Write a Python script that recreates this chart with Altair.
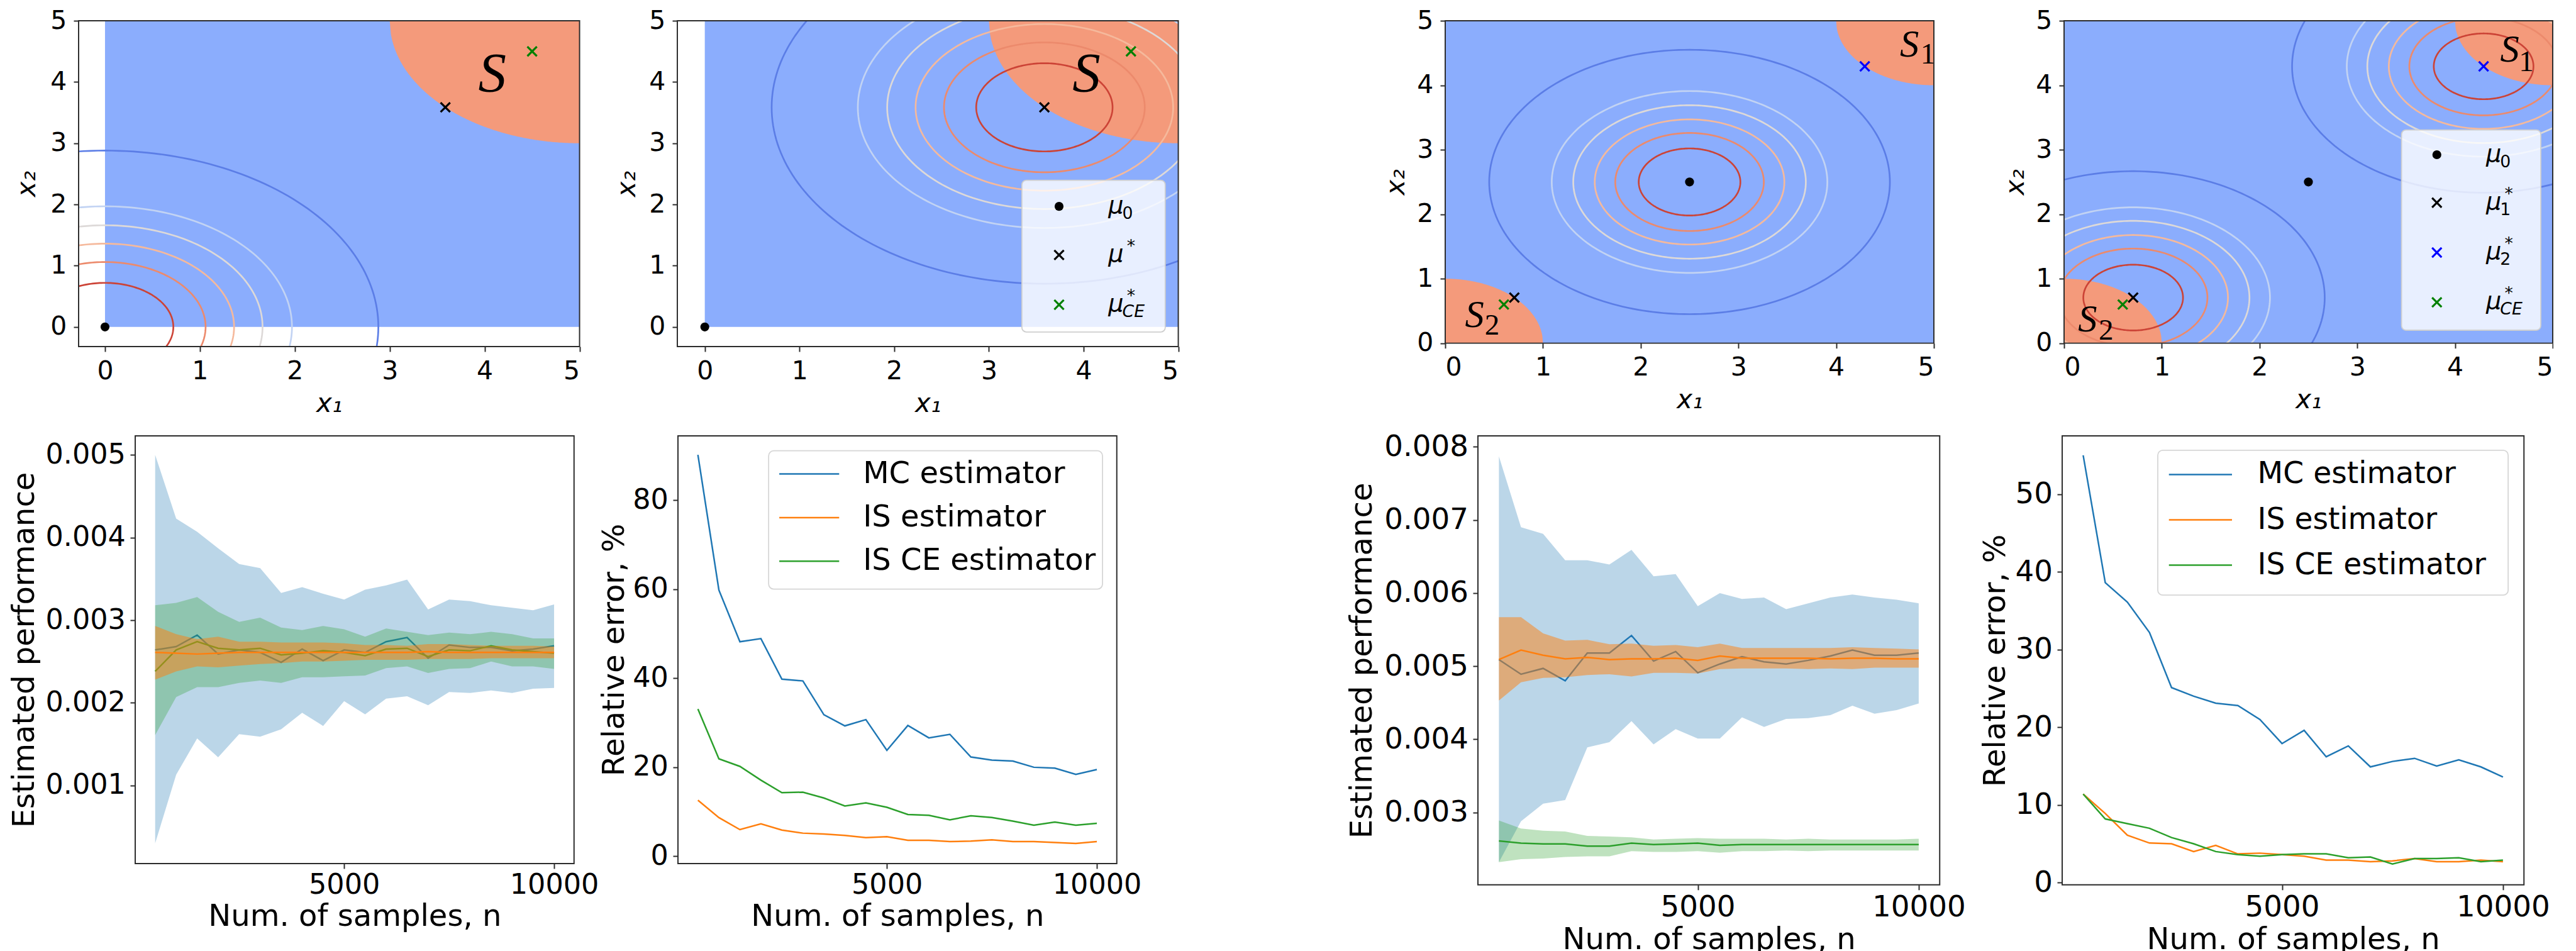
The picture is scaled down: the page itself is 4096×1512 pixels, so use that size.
import altair as alt
import numpy as np
import pandas as pd

SC = 0.89
FONT = "DejaVu Sans"
FRAME_COLOR = "#2b2b2b"
BLUE_FILL = "#8badfd"
SALMON_FILL = "#f49a7b"
C_MC = "#1f77b4"
C_IS = "#ff7f0e"
C_CE = "#2ca02c"

# ------------------------------------------------------------------ data
n_samples = [500, 1000, 1500, 2000, 2500, 3000, 3500, 4000, 4500, 5000,
             5500, 6000, 6500, 7000, 7500, 8000, 8500, 9000, 9500, 10000]

# left figure: estimated performance
mc5_mean = [0.00264, 0.00268, 0.00282, 0.00259, 0.00264, 0.00261, 0.00249, 0.00265, 0.00251, 0.00264,
            0.00261, 0.00274, 0.00279, 0.00254, 0.00270, 0.00267, 0.00267, 0.00263, 0.00265, 0.00269]
mc5_lo = [0.00030, 0.00113, 0.00157, 0.00134, 0.00162, 0.00159, 0.00168, 0.00188, 0.00172, 0.00202,
          0.00186, 0.00205, 0.00208, 0.00197, 0.00213, 0.00212, 0.00215, 0.00212, 0.00217, 0.00218]
mc5_hi = [0.00500, 0.00423, 0.00407, 0.00387, 0.00368, 0.00363, 0.00333, 0.00340, 0.00332, 0.00325,
          0.00337, 0.00342, 0.00349, 0.00313, 0.00325, 0.00323, 0.00318, 0.00315, 0.00312, 0.00319]
is5_mean = [0.00261, 0.00260, 0.00259, 0.00260, 0.00261, 0.00261, 0.00261, 0.00261, 0.00261, 0.00261,
            0.00261, 0.00261, 0.00261, 0.00262, 0.00261, 0.00261, 0.00261, 0.00261, 0.00261, 0.00261]
is5_lo = [0.00228, 0.00238, 0.00244, 0.00243, 0.00245, 0.00247, 0.00248, 0.00250, 0.00250, 0.00251,
          0.00252, 0.00252, 0.00252, 0.00253, 0.00253, 0.00253, 0.00254, 0.00254, 0.00254, 0.00254]
is5_hi = [0.00293, 0.00283, 0.00277, 0.00280, 0.00274, 0.00274, 0.00273, 0.00273, 0.00273, 0.00272,
          0.00270, 0.00270, 0.00269, 0.00271, 0.00271, 0.00270, 0.00269, 0.00269, 0.00269, 0.00268]
ce5_mean = [0.00238, 0.00264, 0.00274, 0.00266, 0.00264, 0.00266, 0.00258, 0.00260, 0.00263, 0.00261,
            0.00257, 0.00265, 0.00266, 0.00256, 0.00264, 0.00263, 0.00269, 0.00264, 0.00262, 0.00260]
ce5_lo = [0.00161, 0.00207, 0.00219, 0.00219, 0.00224, 0.00227, 0.00224, 0.00231, 0.00231, 0.00232,
          0.00233, 0.00242, 0.00244, 0.00236, 0.00241, 0.00242, 0.00250, 0.00244, 0.00244, 0.00241]
ce5_hi = [0.00318, 0.00321, 0.00328, 0.00310, 0.00298, 0.00303, 0.00291, 0.00288, 0.00293, 0.00289,
          0.00280, 0.00290, 0.00286, 0.00282, 0.00285, 0.00283, 0.00286, 0.00283, 0.00278, 0.00278]

# left figure: relative error, %
mc6_err = [90.2, 59.8, 48.2, 48.9, 39.8, 39.4, 31.8, 29.3, 30.7, 23.8,
           29.4, 26.6, 27.4, 22.3, 21.6, 21.4, 20.0, 19.8, 18.4, 19.5]
is6_err = [12.6, 8.7, 6.0, 7.3, 5.9, 5.2, 5.0, 4.7, 4.2, 4.4,
           3.6, 3.6, 3.3, 3.4, 3.7, 3.3, 3.3, 3.1, 2.9, 3.3]
ce6_err = [33.1, 21.9, 20.2, 17.1, 14.3, 14.4, 13.1, 11.3, 12.0, 11.0,
           9.4, 9.2, 8.2, 9.1, 8.7, 7.9, 7.0, 7.7, 7.0, 7.4]

# right figure: estimated performance
mc7_mean = [0.00509, 0.00489, 0.00497, 0.00480, 0.00518, 0.00518, 0.00542, 0.00507, 0.00520, 0.00491,
            0.00503, 0.00513, 0.00506, 0.00503, 0.00508, 0.00514, 0.00522, 0.00515, 0.00515, 0.00518]
mc7_lo = [0.00232, 0.00288, 0.00312, 0.00317, 0.00389, 0.00396, 0.00425, 0.00393, 0.00414, 0.00401,
          0.00401, 0.00430, 0.00417, 0.00428, 0.00429, 0.00433, 0.00446, 0.00435, 0.00440, 0.00449]
mc7_hi = [0.00787, 0.00690, 0.00681, 0.00645, 0.00645, 0.00639, 0.00659, 0.00623, 0.00626, 0.00582,
          0.00600, 0.00592, 0.00594, 0.00578, 0.00586, 0.00594, 0.00598, 0.00594, 0.00591, 0.00586]
is7_mean = [0.00509, 0.00522, 0.00515, 0.00510, 0.00512, 0.00509, 0.00510, 0.00510, 0.00511, 0.00508,
            0.00514, 0.00511, 0.00511, 0.00511, 0.00511, 0.00510, 0.00511, 0.00511, 0.00510, 0.00510]
is7_lo = [0.00453, 0.00478, 0.00484, 0.00485, 0.00488, 0.00489, 0.00486, 0.00491, 0.00491, 0.00490,
          0.00496, 0.00497, 0.00497, 0.00497, 0.00496, 0.00497, 0.00496, 0.00498, 0.00498, 0.00498]
is7_hi = [0.00567, 0.00567, 0.00545, 0.00535, 0.00536, 0.00530, 0.00531, 0.00528, 0.00529, 0.00526,
          0.00531, 0.00525, 0.00525, 0.00525, 0.00525, 0.00525, 0.00526, 0.00525, 0.00524, 0.00523]
ce7_mean = [0.00261, 0.00258, 0.00257, 0.00257, 0.00254, 0.00254, 0.00258, 0.00256, 0.00257, 0.00258,
            0.00255, 0.00256, 0.00256, 0.00256, 0.00256, 0.00256, 0.00256, 0.00256, 0.00256, 0.00256]
ce7_lo = [0.00232, 0.00236, 0.00237, 0.00239, 0.00240, 0.00240, 0.00247, 0.00246, 0.00246, 0.00247,
          0.00245, 0.00247, 0.00247, 0.00248, 0.00247, 0.00248, 0.00248, 0.00248, 0.00248, 0.00248]
ce7_hi = [0.00289, 0.00278, 0.00275, 0.00274, 0.00268, 0.00267, 0.00266, 0.00263, 0.00264, 0.00265,
          0.00264, 0.00264, 0.00264, 0.00263, 0.00264, 0.00263, 0.00263, 0.00263, 0.00263, 0.00264]

# right figure: relative error, %
mc8_err = [55.0, 38.6, 36.1, 32.2, 25.1, 24.0, 23.1, 22.8, 21.0, 17.9,
           19.6, 16.2, 17.6, 14.9, 15.6, 16.0, 15.0, 15.8, 14.9, 13.6]
is8_err = [11.4, 8.9, 6.1, 5.1, 5.0, 4.0, 4.8, 3.7, 3.8, 3.6,
           3.4, 2.9, 2.9, 2.7, 2.8, 3.1, 2.7, 2.7, 2.9, 2.7]
ce8_err = [11.4, 8.2, 7.6, 7.0, 5.8, 5.0, 4.0, 3.6, 3.4, 3.6,
           3.7, 3.7, 3.2, 3.3, 2.4, 3.1, 3.1, 3.2, 2.7, 2.9]

estimators = ["MC estimator", "IS estimator", "IS CE estimator"]
est_colors = [C_MC, C_IS, C_CE]

# top row: contour radii (level sets of the sampling density) and colours
ring_colors = ["#cc4336", "#ec8a6c", "#f5b99c", "#ddd9d8", "#c2d3f3", "#5b7de6"]
radii_single = [0.72, 1.06, 1.36, 1.66, 1.97, 2.88]
radii_p3 = [0.52, 0.76, 0.97, 1.19, 1.41, 2.05]
radii_p4 = [0.51, 0.76, 0.97, 1.19, 1.40, 1.96]

mu0_a = (0.0, 0.0)
mu_star_a = (3.586, 3.586)
mu_ce_a = (4.5, 4.5)
mu0_b = (2.5, 2.5)
mu1_b = (0.707, 0.707)
mu2_b = (4.293, 4.293)
mu_ce_b = (0.6, 0.6)

# failure regions: discs (centre x, centre y, radius) clipped to [0, 5]^2
region_a = [(5.0, 5.0, 2.0)]
region_b = [(5.0, 5.0, 1.0), (0.0, 0.0, 1.0)]

CROSS = "M-1,-1L1,1M-1,1L1,-1"


def s(v):
    return v * SC


def dummy():
    return alt.Chart(pd.DataFrame({"a": [0]}))


def frame(w, h):
    return dummy().mark_rect(fill=None, fillOpacity=0, stroke=FRAME_COLOR, strokeWidth=s(2.2)).encode(
        x=alt.value(0), x2=alt.value(w), y=alt.value(0), y2=alt.value(h))


def ring_df(centers, radii):
    rows = []
    t = np.linspace(0, 2 * np.pi, 241)
    for ci, (cx, cy) in enumerate(centers):
        for ri, r in enumerate(radii):
            for k, tt in enumerate(t):
                rows.append(dict(x=cx + r * np.cos(tt), y=cy + r * np.sin(tt),
                                 col=ring_colors[ri], grp=f"{ci}-{ri}", k=k))
    return pd.DataFrame(rows)


def region_df(discs):
    rows = []
    for di, (cx, cy, R) in enumerate(discs):
        x0, x1 = max(0.0, cx - R), min(5.0, cx + R)
        for x in np.linspace(x0, x1, 161):
            h = np.sqrt(max(R * R - (x - cx) ** 2, 0.0))
            rows.append(dict(x=x, lo=max(0.0, cy - h), hi=min(5.0, cy + h), d=di))
    return pd.DataFrame(rows)


def top_axis_x():
    return alt.Axis(values=[0, 1, 2, 3, 4, 5], title="x\u2081", grid=False, domain=False,
                    tickSize=s(9), tickWidth=s(2.2), tickColor=FRAME_COLOR,
                    labelFontSize=s(46), labelPadding=s(12.5), labelColor="black", labelFont=FONT,
                    titleFontSize=s(47), titleFont=FONT, titleFontStyle="italic", titleFontWeight="normal",
                    titleColor="black", titleBaseline="alphabetic", titleY=s(116))


def top_axis_y(tx, h):
    return alt.Axis(values=[0, 1, 2, 3, 4, 5], title="x\u2082", grid=False, domain=False,
                    tickSize=s(9), tickWidth=s(2.2), tickColor=FRAME_COLOR,
                    labelFontSize=s(46), labelPadding=s(12.5), labelColor="black", labelFont=FONT,
                    titleFontSize=s(47), titleFont=FONT, titleFontStyle="italic", titleFontWeight="normal",
                    titleColor="black", titleBaseline="alphabetic", titleX=tx, titleY=h / 2,
                    titleAngle=270)


def top_panel(w, h, xdom, ydom, centers, radii, discs, circle_pts, cross_pts,
              s_texts, sub_texts, s_size, sub_size, ytitle_x, legend=None):
    xs = alt.Scale(domain=xdom, nice=False, zero=False)
    ys = alt.Scale(domain=ydom, nice=False, zero=False)
    ax = top_axis_x()
    ay = top_axis_y(ytitle_x, h)

    def X(f):
        return alt.X(f, scale=xs, axis=ax)

    def Y(f):
        return alt.Y(f, scale=ys, axis=ay)

    bg = alt.Chart(pd.DataFrame({"x0": [0.0], "x1": [5.0], "y0": [0.0], "y1": [5.0]})).mark_rect(
        color=BLUE_FILL).encode(x=X("x0:Q"), x2="x1:Q", y=Y("y0:Q"), y2="y1:Q")
    reg = alt.Chart(region_df(discs)).mark_area(color=SALMON_FILL, clip=True).encode(
        x=X("x:Q"), y=Y("lo:Q"), y2="hi:Q", detail="d:N")
    rings = alt.Chart(ring_df(centers, radii)).mark_line(clip=True, strokeWidth=s(3.0)).encode(
        x=X("x:Q"), y=Y("y:Q"), detail="grp:N", order="k:Q", color=alt.Color("col:N", scale=None))
    circ = alt.Chart(pd.DataFrame(circle_pts, columns=["x", "y"])).mark_point(
        shape="circle", filled=True, color="black", opacity=1, size=s(18) ** 2 * 0.785).encode(
        x=X("x:Q"), y=Y("y:Q"))
    crs = alt.Chart(pd.DataFrame(cross_pts, columns=["x", "y", "col"])).mark_point(
        shape=CROSS, filled=False, opacity=1, strokeWidth=s(3.6), size=s(17) ** 2).encode(
        x=X("x:Q"), y=Y("y:Q"), stroke=alt.Stroke("col:N", scale=None))
    stx = alt.Chart(pd.DataFrame(s_texts, columns=["x", "y", "t"])).mark_text(
        font="Liberation Serif", fontStyle="italic", fontSize=s_size, align="center",
        baseline="middle", color="black").encode(x=X("x:Q"), y=Y("y:Q"), text="t:N")
    layers = [bg, reg, rings, circ, crs, stx]
    if sub_texts:
        sbt = alt.Chart(pd.DataFrame(sub_texts, columns=["x", "y", "t"])).mark_text(
            font="Liberation Serif", fontSize=sub_size, align="center",
            baseline="middle", color="black").encode(x=X("x:Q"), y=Y("y:Q"), text="t:N")
        layers.append(sbt)
    if legend is not None:
        layers += legend
    layers.append(frame(w, h))
    return alt.layer(*layers).properties(width=w, height=h)


def marker_legend(box, mx, tx, rows):
    """rows: (y, kind, colour, subscript, star, sub_italic)"""
    x0, y0, x1, y1 = box
    out = [dummy().mark_rect(fill="white", fillOpacity=0.8, stroke="#cfcfcf", strokeWidth=s(2),
                             cornerRadius=s(8)).encode(
        x=alt.value(x0), x2=alt.value(x1), y=alt.value(y0), y2=alt.value(y1))]
    for (ry, kind, col, sub, star, sub_it) in rows:
        if kind == "circle":
            out.append(dummy().mark_point(shape="circle", filled=True, color=col, opacity=1,
                                          size=s(18) ** 2 * 0.785).encode(
                x=alt.value(mx), y=alt.value(ry)))
        else:
            out.append(dummy().mark_point(shape=CROSS, filled=False, color=col, opacity=1,
                                          strokeWidth=s(3.6), size=s(17) ** 2).encode(
                x=alt.value(mx), y=alt.value(ry)))
        out.append(dummy().mark_text(text="\u03bc", font=FONT, fontStyle="italic", fontSize=s(43),
                                     align="left", baseline="alphabetic", color="black").encode(
            x=alt.value(tx), y=alt.value(ry + s(12))))
        out.append(dummy().mark_text(text=sub, font=FONT, fontStyle="italic" if sub_it else "normal",
                                     fontSize=s(30), align="left", baseline="alphabetic",
                                     color="black").encode(
            x=alt.value(tx + s(25)), y=alt.value(ry + s(22))))
        if star:
            out.append(dummy().mark_text(text="*", font=FONT, fontSize=s(30), align="left",
                                         baseline="alphabetic", color="black").encode(
                x=alt.value(tx + s(33)), y=alt.value(ry - s(6))))
    return out


# ------------------------------------------------------------------ top row panels
W12, H12 = s(895), s(582)
W34, H34 = s(873), s(576)

p1 = top_panel(W12, H12, [-0.278, 5.0], [-0.32, 5.0], [mu0_a], radii_single, region_a,
               [mu0_a], [(mu_star_a[0], mu_star_a[1], "black"), (mu_ce_a[0], mu_ce_a[1], "#008000")],
               [(4.08, 4.13, "S")], [], s(100), s(53), -s(78))

leg2 = marker_legend((s(615.6), s(285), s(871.7), s(556)), s(682), s(770),
                     [(s(331.6), "circle", "black", "0", False, False),
                      (s(418.4), "cross", "black", "", True, False),
                      (s(507.3), "cross", "#008000", "CE", True, True)])
p2 = top_panel(W12, H12, [-0.29, 5.0], [-0.32, 5.0], [mu_star_a], radii_single, region_a,
               [mu0_a], [(mu_star_a[0], mu_star_a[1], "black"), (mu_ce_a[0], mu_ce_a[1], "#008000")],
               [(4.03, 4.13, "S")], [], s(100), s(53), -s(76), leg2)

p3 = top_panel(W34, H34, [0.0, 5.0], [0.0, 5.0], [mu0_b], radii_p3, region_b,
               [mu0_b], [(mu1_b[0], mu1_b[1], "black"), (mu2_b[0], mu2_b[1], "#0000ff"),
                         (mu_ce_b[0], mu_ce_b[1], "#008000")],
               [(4.75, 4.62, "S"), (0.30, 0.43, "S")], [(4.94, 4.47, "1"), (0.48, 0.27, "2")],
               s(68), s(53), -s(74))

leg4 = marker_legend((s(602.9), s(195), s(851.7), s(552.8)), s(666), s(754),
                     [(s(239.3), "circle", "black", "0", False, False),
                      (s(325), "cross", "black", "1", True, False),
                      (s(414), "cross", "#0000ff", "2", True, False),
                      (s(503), "cross", "#008000", "CE", True, True)])
p4 = top_panel(W34, H34, [0.0, 5.0], [0.0, 5.0], [mu1_b, mu2_b], radii_p4, region_b,
               [mu0_b], [(mu1_b[0], mu1_b[1], "black"), (mu2_b[0], mu2_b[1], "#0000ff"),
                         (mu_ce_b[0], mu_ce_b[1], "#008000")],
               [(4.56, 4.54, "S"), (0.24, 0.36, "S")], [(4.73, 4.36, "1"), (0.43, 0.19, "2")],
               s(68), s(53), -s(73), leg4)


# ------------------------------------------------------------------ bottom row panels
def bottom_x_axis(label_fs, title_y):
    return alt.Axis(values=[5000, 10000], format="d", title="Num. of samples, n", grid=False,
                    domain=False, tickSize=s(9), tickWidth=s(2.2), tickColor=FRAME_COLOR,
                    labelFontSize=label_fs, labelPadding=s(5), labelColor="black", labelFont=FONT,
                    titleFontSize=s(54), titleFont=FONT, titleFontWeight="normal", titleColor="black",
                    titleBaseline="alphabetic", titleY=title_y)


def bottom_y_axis(values, fmt, title, label_fs, title_x, h):
    return alt.Axis(values=values, format=fmt, title=title, grid=False, domain=False,
                    tickSize=s(9), tickWidth=s(2.2), tickColor=FRAME_COLOR,
                    labelFontSize=label_fs, labelPadding=s(8.5), labelColor="black", labelFont=FONT,
                    titleFontSize=s(54), titleFont=FONT, titleFontWeight="normal", titleColor="black",
                    titleBaseline="alphabetic", titleX=title_x, titleY=h / 2, titleAngle=270)


XS_N = alt.Scale(domain=[25, 10475], nice=False, zero=False)


def perf_panel(w, h, ydom, yvals, label_fs, ytitle_x, xtitle_y, mc, is_, ce):
    ys = alt.Scale(domain=ydom, nice=False, zero=False)
    ax = bottom_x_axis(label_fs, xtitle_y)
    ay = bottom_y_axis(yvals, ".3f", "Estimated performance", label_fs, ytitle_x, h)

    def df(series):
        m, lo, hi = series
        return pd.DataFrame({"n": n_samples, "m": m, "lo": lo, "hi": hi})

    def area(series, color, op):
        return alt.Chart(df(series)).mark_area(color=color, opacity=op, clip=True).encode(
            x=alt.X("n:Q", scale=XS_N, axis=ax), y=alt.Y("lo:Q", scale=ys, axis=ay), y2="hi:Q")

    def line(series, color):
        return alt.Chart(df(series)).mark_line(color=color, strokeWidth=s(2.8), clip=True).encode(
            x=alt.X("n:Q", scale=XS_N, axis=ax), y=alt.Y("m:Q", scale=ys, axis=ay))

    layers = [area(mc, C_MC, 0.3), line(mc, C_MC), line(ce, C_CE), area(ce, C_CE, 0.3),
              area(is_, C_IS, 0.5), line(is_, C_IS), frame(w, h)]
    return alt.layer(*layers).properties(width=w, height=h)


def err_panel(w, h, ydom, yvals, label_fs, ytitle_x, xtitle_y, mc, is_, ce, leg):
    ys = alt.Scale(domain=ydom, nice=False, zero=False)
    rows = []
    for name, col, vals in zip(estimators, est_colors, [mc, is_, ce]):
        for n, v in zip(n_samples, vals):
            rows.append(dict(n=n, err=v, est=name, col=col))
    d = pd.DataFrame(rows)
    lines = alt.Chart(d).mark_line(strokeWidth=s(2.8), clip=True).encode(
        x=alt.X("n:Q", scale=XS_N, axis=bottom_x_axis(label_fs, xtitle_y)),
        y=alt.Y("err:Q", scale=ys, axis=bottom_y_axis(yvals, "d", "Relative error, %", label_fs,
                                                      ytitle_x, h)),
        detail="est:N", color=alt.Color("col:N", scale=None))
    box, lx0, lx1, tx, rys, fs = leg
    layers = [lines, dummy().mark_rect(fill="white", fillOpacity=0.8, stroke="#d6d6d6",
                                       strokeWidth=s(2), cornerRadius=s(9)).encode(
        x=alt.value(box[0]), x2=alt.value(box[2]), y=alt.value(box[1]), y2=alt.value(box[3]))]
    for name, col, ry in zip(estimators, est_colors, rys):
        layers.append(dummy().mark_rule(color=col, strokeWidth=s(2.8)).encode(
            x=alt.value(lx0), x2=alt.value(lx1), y=alt.value(ry)))
        layers.append(dummy().mark_text(text=name, font=FONT, fontSize=fs, align="left",
                                        baseline="middle", color="black").encode(
            x=alt.value(tx), y=alt.value(ry)))
    layers.append(frame(w, h))
    return alt.layer(*layers).properties(width=w, height=h)


W56, H56 = s(784), s(764)
W78, H78 = s(825), s(802)

p5 = perf_panel(W56, H56, [0.000055, 0.00523], [0.001, 0.002, 0.003, 0.004, 0.005], s(50),
                -s(181.5), s(111), (mc5_mean, mc5_lo, mc5_hi), (is5_mean, is5_lo, is5_hi),
                (ce5_mean, ce5_lo, ce5_hi))
p6 = err_panel(W56, H56, [-1.63, 94.45], [0, 20, 40, 60, 80], s(50), -s(97.4), s(111),
               mc6_err, is6_err, ce6_err,
               ((s(162), s(26.6), s(758.5), s(273.7)), s(181), s(288), s(330.5),
                [s(68), s(146), s(224)], s(54)))
p7 = perf_panel(W78, H78, [0.00201, 0.00815], [0.003, 0.004, 0.005, 0.006, 0.007, 0.008], s(52.5),
                -s(190.4), s(114), (mc7_mean, mc7_lo, mc7_hi), (is7_mean, is7_lo, is7_hi),
                (ce7_mean, ce7_lo, ce7_hi))
p8 = err_panel(W78, H78, [-0.28, 57.5], [0, 10, 20, 30, 40, 50], s(52.5), -s(102.3), s(114),
               mc8_err, is8_err, ce8_err,
               ((s(170.8), s(25.7), s(796.8), s(284.5)), s(190.7), s(303.4), s(349),
                [s(69), s(150), s(231)], s(53)))


# ------------------------------------------------------------------ layout
def spacer(w):
    return dummy().mark_point(opacity=0, size=1).encode(
        x=alt.value(w / 2), y=alt.value(5)).properties(width=w, height=10)


row_top = alt.hconcat(spacer(s(140)), p1, spacer(s(1209 - 1035)), p2, spacer(s(2580 - 2104)),
                      p3, spacer(s(3685 - 3453)), p4, spacing=0, bounds="flush")
row_bot = alt.hconcat(spacer(s(241)), p5, spacer(s(1210 - 1025)), p6, spacer(s(2638 - 1994)),
                      p7, spacer(s(3680 - 3463)), p8, spacing=0, bounds="flush")

chart = alt.vconcat(row_top, row_bot, spacing=23).properties(
    padding={"left": 0, "top": 12, "right": 0, "bottom": 0}
).configure(font=FONT, background="white").configure_view(strokeWidth=0, stroke="transparent")

chart.save("out.html", embed_options={"renderer": "svg", "actions": False})
